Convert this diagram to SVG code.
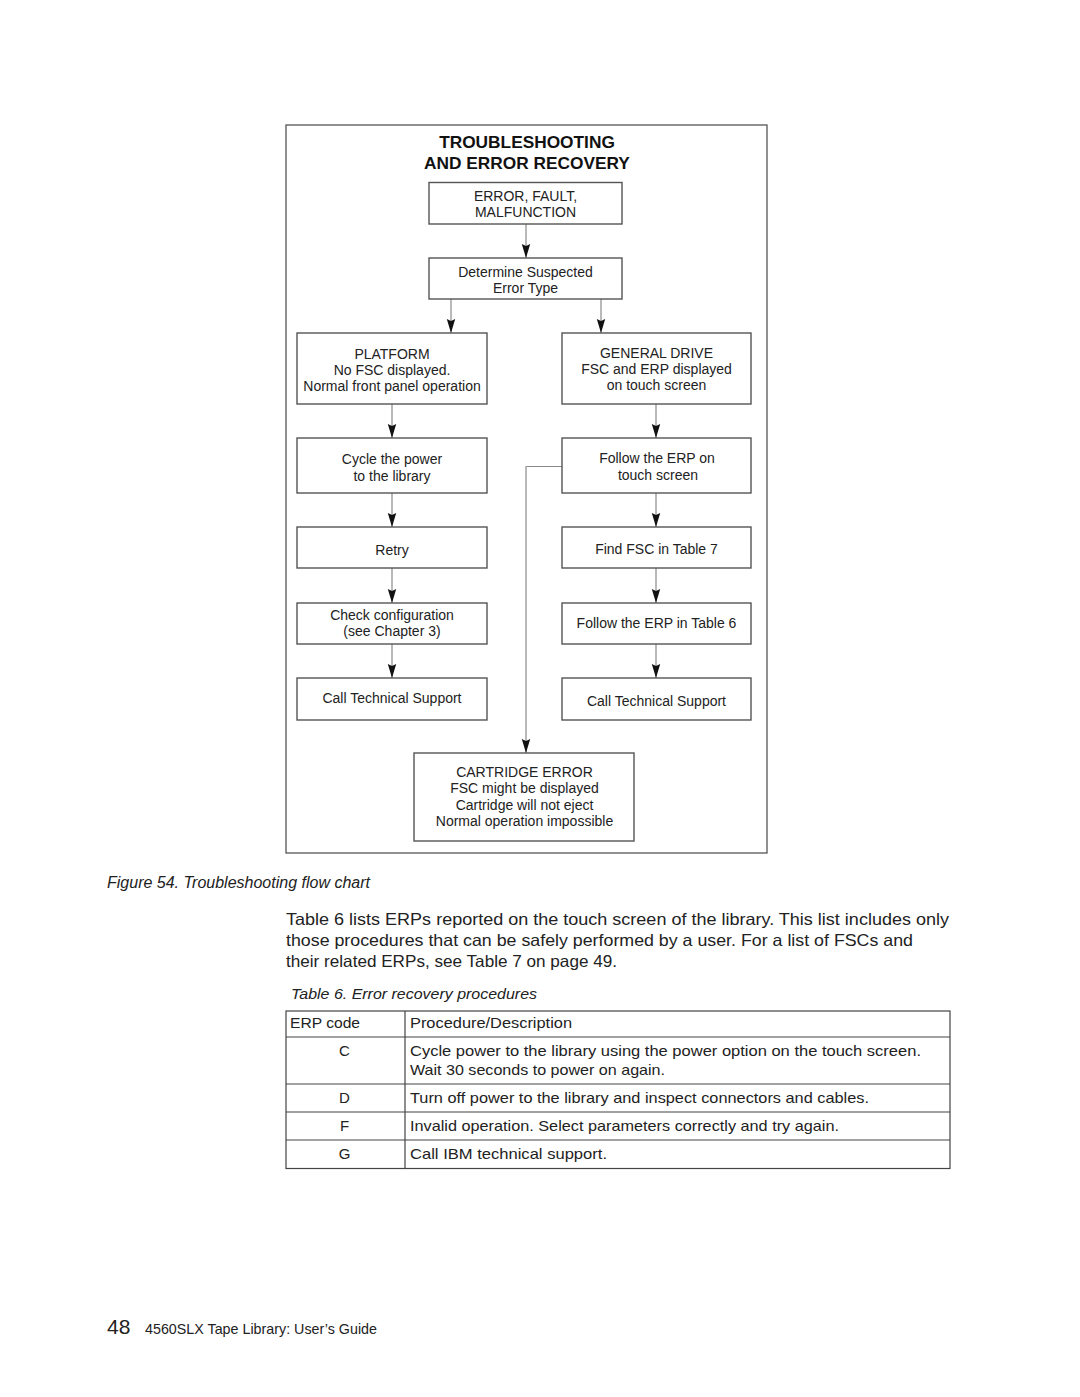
<svg xmlns="http://www.w3.org/2000/svg" width="1080" height="1397" viewBox="0 0 1080 1397">
<style>
.bg{fill:#ffffff}
.frame{fill:none;stroke:#555;stroke-width:1.3}
.box{fill:#fff;stroke:#555;stroke-width:1.4}
.t{font-family:"Liberation Sans",Arial,sans-serif;font-size:14px;fill:#222;text-anchor:middle}
.title{font-family:"Liberation Sans",Arial,sans-serif;font-size:17.3px;font-weight:bold;fill:#111;text-anchor:middle}
.conn{fill:none;stroke:#a8a8a8;stroke-width:1.6}
.conn2{fill:none;stroke:#888;stroke-width:1.1}
.body{font-family:"Liberation Sans",Arial,sans-serif;font-size:16.5px;fill:#222}
.it{font-family:"Liberation Sans",Arial,sans-serif;font-style:italic;fill:#222}
.tb{font-family:"Liberation Sans",Arial,sans-serif;font-size:15px;fill:#222}
.tbc{font-family:"Liberation Sans",Arial,sans-serif;font-size:15px;fill:#222;text-anchor:middle}
.grid{fill:none;stroke:#444;stroke-width:1.2}
</style>
<defs>
<marker id="ah" viewBox="-15 -5 16 10" refX="0" refY="0" markerWidth="16" markerHeight="10" markerUnits="userSpaceOnUse" orient="auto">
<path d="M0,0 L-14,-4.2 L-12,0 L-14,4.2 Z" fill="#111"/>
</marker>
</defs>
<rect class="bg" x="0" y="0" width="1080" height="1397"/>

<rect class="frame" x="286" y="125" width="481" height="728"/>
<g id="title">
<text class="title" x="527" y="148">TROUBLESHOOTING</text>
<text class="title" x="527" y="169">AND ERROR RECOVERY</text>
</g>

<g id="connectors">
<line class="conn" x1="526" y1="224" x2="526" y2="258" marker-end="url(#ah)"/>
<line class="conn" x1="451" y1="299" x2="451" y2="333" marker-end="url(#ah)"/>
<line class="conn" x1="601" y1="299" x2="601" y2="333" marker-end="url(#ah)"/>
<line class="conn" x1="392" y1="404" x2="392" y2="438" marker-end="url(#ah)"/>
<line class="conn" x1="656" y1="404" x2="656" y2="438" marker-end="url(#ah)"/>
<line class="conn" x1="392" y1="493" x2="392" y2="527" marker-end="url(#ah)"/>
<line class="conn" x1="656" y1="493" x2="656" y2="527" marker-end="url(#ah)"/>
<line class="conn" x1="392" y1="568" x2="392" y2="603" marker-end="url(#ah)"/>
<line class="conn" x1="656" y1="568" x2="656" y2="603" marker-end="url(#ah)"/>
<line class="conn" x1="392" y1="644" x2="392" y2="678" marker-end="url(#ah)"/>
<line class="conn" x1="656" y1="644" x2="656" y2="678" marker-end="url(#ah)"/>
<line class="conn2" x1="562" y1="466.5" x2="526" y2="466.5"/>
<line class="conn" x1="526" y1="466" x2="526" y2="753" marker-end="url(#ah)"/>
</g>

<g id="n-error">
<rect class="box" x="429" y="182.5" width="193" height="41.5"/>
<text class="t" x="525.5" y="200.5">ERROR, FAULT,</text>
<text class="t" x="525.5" y="216.5">MALFUNCTION</text>
</g>
<g id="n-determine">
<rect class="box" x="429" y="258" width="193" height="41"/>
<text class="t" x="525.5" y="276.5">Determine Suspected</text>
<text class="t" x="525.5" y="292.5">Error Type</text>
</g>
<g id="n-platform">
<rect class="box" x="297" y="333" width="190" height="71"/>
<text class="t" x="392" y="358.5">PLATFORM</text>
<text class="t" x="392" y="374.5">No FSC displayed.</text>
<text class="t" x="392" y="390.5">Normal front panel operation</text>
</g>
<g id="n-general">
<rect class="box" x="562" y="333" width="189" height="71"/>
<text class="t" x="656.5" y="357.5">GENERAL DRIVE</text>
<text class="t" x="656.5" y="373.5">FSC and ERP displayed</text>
<text class="t" x="656.5" y="389.5">on touch screen</text>
</g>
<g id="n-cycle">
<rect class="box" x="297" y="438" width="190" height="55"/>
<text class="t" x="392" y="464">Cycle the power</text>
<text class="t" x="392" y="480.5">to the library</text>
</g>
<g id="n-follow">
<rect class="box" x="562" y="438" width="189" height="55"/>
<text class="t" x="657" y="463">Follow the ERP on</text>
<text class="t" x="658" y="479.5">touch screen</text>
</g>
<g id="n-retry">
<rect class="box" x="297" y="527" width="190" height="41"/>
<text class="t" x="392" y="555">Retry</text>
</g>
<g id="n-find">
<rect class="box" x="562" y="527" width="189" height="41"/>
<text class="t" x="656.5" y="554">Find FSC in Table 7</text>
</g>
<g id="n-check">
<rect class="box" x="297" y="603" width="190" height="41"/>
<text class="t" x="392" y="620">Check configuration</text>
<text class="t" x="392" y="636">(see Chapter 3)</text>
</g>
<g id="n-follow6">
<rect class="box" x="562" y="603" width="189" height="41"/>
<text class="t" x="656.5" y="628">Follow the ERP in Table 6</text>
</g>
<g id="n-call-left">
<rect class="box" x="297" y="678" width="190" height="42"/>
<text class="t" x="392" y="703">Call Technical Support</text>
</g>
<g id="n-call-right">
<rect class="box" x="562" y="678" width="189" height="42"/>
<text class="t" x="656.5" y="705.5">Call Technical Support</text>
</g>
<g id="n-cartridge">
<rect class="box" x="414" y="753" width="220" height="88"/>
<text class="t" x="524.5" y="777">CARTRIDGE ERROR</text>
<text class="t" x="524.5" y="793">FSC might be displayed</text>
<text class="t" x="524.5" y="809.5">Cartridge will not eject</text>
<text class="t" x="524.5" y="826">Normal operation impossible</text>
</g>

<text class="it" x="107" y="888" font-size="16" textLength="263" lengthAdjust="spacingAndGlyphs">Figure 54. Troubleshooting flow chart</text>

<g id="paragraph">
<text class="body" x="286" y="925" textLength="663" lengthAdjust="spacingAndGlyphs">Table 6 lists ERPs reported on the touch screen of the library. This list includes only</text>
<text class="body" x="286" y="946" textLength="627" lengthAdjust="spacingAndGlyphs">those procedures that can be safely performed by a user. For a list of FSCs and</text>
<text class="body" x="286" y="967" textLength="331" lengthAdjust="spacingAndGlyphs">their related ERPs, see Table 7 on page 49.</text>
</g>

<text class="it" x="291" y="999" font-size="15.5" textLength="246" lengthAdjust="spacingAndGlyphs">Table 6. Error recovery procedures</text>

<g id="table">
<rect class="grid" x="286" y="1011" width="664" height="157.5"/>
<line class="grid" x1="405" y1="1011" x2="405" y2="1168.5"/>
<line class="grid" x1="286" y1="1037" x2="950" y2="1037"/>
<line class="grid" x1="286" y1="1084" x2="950" y2="1084"/>
<line class="grid" x1="286" y1="1112" x2="950" y2="1112"/>
<line class="grid" x1="286" y1="1140" x2="950" y2="1140"/>
<text class="tb" x="290" y="1028" textLength="70" lengthAdjust="spacingAndGlyphs">ERP code</text>
<text class="tb" x="410" y="1028" textLength="162" lengthAdjust="spacingAndGlyphs">Procedure/Description</text>
<text class="tbc" x="344.5" y="1056">C</text>
<text class="tb" x="410" y="1056" textLength="511" lengthAdjust="spacingAndGlyphs">Cycle power to the library using the power option on the touch screen.</text>
<text class="tb" x="410" y="1075" textLength="255" lengthAdjust="spacingAndGlyphs">Wait 30 seconds to power on again.</text>
<text class="tbc" x="344.5" y="1103">D</text>
<text class="tb" x="410" y="1103" textLength="459" lengthAdjust="spacingAndGlyphs">Turn off power to the library and inspect connectors and cables.</text>
<text class="tbc" x="344.5" y="1131">F</text>
<text class="tb" x="410" y="1131" textLength="429" lengthAdjust="spacingAndGlyphs">Invalid operation. Select parameters correctly and try again.</text>
<text class="tbc" x="344.5" y="1159">G</text>
<text class="tb" x="410" y="1159" textLength="197" lengthAdjust="spacingAndGlyphs">Call IBM technical support.</text>
</g>

<g id="footer">
<text x="107" y="1334" font-family="Liberation Sans, Arial, sans-serif" font-size="21" fill="#222">48</text>
<text x="145" y="1334" font-family="Liberation Sans, Arial, sans-serif" font-size="14.5" fill="#222" textLength="232" lengthAdjust="spacingAndGlyphs">4560SLX Tape Library: User’s Guide</text>
</g>
</svg>
